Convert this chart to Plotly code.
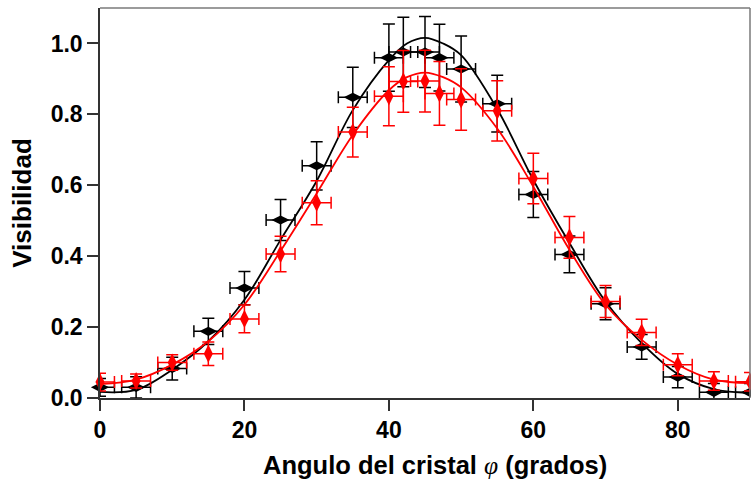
import plotly.graph_objects as go

# ---- data ----
angle = [0, 5, 10, 15, 20, 25, 30, 35, 40, 42, 45, 47, 50, 55, 60, 65, 70, 75, 80, 85, 90]
vis_black = [0.030, 0.030, 0.083, 0.188, 0.310, 0.502, 0.655, 0.848, 0.960, 0.976, 0.976, 0.960,
             0.928, 0.830, 0.574, 0.405, 0.266, 0.144, 0.059, 0.016, 0.016]
err_black = [0.025, 0.030, 0.032, 0.037, 0.047, 0.058, 0.068, 0.085, 0.095, 0.098, 0.100, 0.094,
             0.093, 0.080, 0.065, 0.052, 0.045, 0.035, 0.030, 0.025, 0.025]
vis_red = [0.045, 0.048, 0.100, 0.125, 0.223, 0.406, 0.551, 0.750, 0.851, 0.893, 0.894, 0.859,
           0.842, 0.810, 0.619, 0.453, 0.272, 0.185, 0.094, 0.048, 0.046]
err_red = [0.025, 0.020, 0.022, 0.033, 0.039, 0.050, 0.062, 0.070, 0.083, 0.087, 0.087, 0.090,
           0.087, 0.085, 0.071, 0.059, 0.045, 0.037, 0.031, 0.026, 0.026]
angle_err = [2] * len(angle)

fit_angle = [0, 5, 10, 15, 20, 25, 30, 35, 40, 42.5, 45, 47.5, 50, 55, 60, 65, 70, 75, 80, 85, 90]
fit_black = [0.017, 0.023, 0.080, 0.160, 0.277, 0.446, 0.612, 0.812, 0.953, 1.000, 1.016, 1.000,
             0.967, 0.815, 0.615, 0.437, 0.272, 0.155, 0.068, 0.025, 0.014]
fit_red = [0.039, 0.052, 0.094, 0.160, 0.263, 0.415, 0.577, 0.742, 0.868, 0.905, 0.918, 0.905,
           0.876, 0.760, 0.596, 0.418, 0.263, 0.164, 0.094, 0.052, 0.042]

x_ticks = [0, 20, 40, 60, 80]
y_ticks = [0.0, 0.2, 0.4, 0.6, 0.8, 1.0]

FONT = "Liberation Sans, Arial, sans-serif"
BLACK = "#000000"
RED = "#ff0000"

fig = go.Figure()


def add_series(y, err, fit_y, color, symbol, msize):
    # error bars (clipped to the plot area)
    fig.add_trace(go.Scatter(
        x=angle, y=y, mode="markers",
        marker=dict(size=1, color=color, opacity=0),
        error_y=dict(type="data", array=err, visible=True, color=color, thickness=1.5, width=6),
        error_x=dict(type="data", array=angle_err, visible=True, color=color, thickness=1.5, width=6),
        cliponaxis=True, showlegend=False, hoverinfo="skip"))
    # markers (not clipped)
    fig.add_trace(go.Scatter(
        x=angle, y=y, mode="markers",
        marker=dict(symbol=symbol, size=msize, color=color, line=dict(width=0)),
        cliponaxis=False, showlegend=False))
    # fit curve
    fig.add_trace(go.Scatter(
        x=fit_angle, y=fit_y, mode="lines",
        line=dict(color=color, width=1.8, shape="spline", smoothing=1.0),
        showlegend=False, hoverinfo="skip"))


add_series(vis_black, err_black, fit_black, BLACK, "diamond-wide", 13)
add_series(vis_red, err_red, fit_red, RED, "diamond-tall", 13)

axis_common = dict(
    showgrid=False, zeroline=False, showline=True, linecolor="#333333", linewidth=1.5,
    ticks="outside", ticklen=11, tickwidth=1.5, tickcolor="#333333",
    tickfont=dict(family=FONT, size=23, color="#000000", weight="bold"),
    mirror=False,
)

fig.update_layout(
    width=751, height=479,
    margin=dict(l=100, r=1, t=8, b=81, pad=0),
    paper_bgcolor="white", plot_bgcolor="white",
    xaxis=dict(range=[0, 90], tickvals=x_ticks, ticktext=[str(v) for v in x_ticks],
               **axis_common),
    yaxis=dict(range=[0, 1.1], tickvals=y_ticks, ticktext=[f"{v:.1f}" for v in y_ticks],
               title=dict(text="Visibilidad", font=dict(family=FONT, size=26, color="#000000", weight="bold"),
                          standoff=12),
               **axis_common),
    annotations=[
        dict(text="Angulo del cristal <span style=\"font-family:'Liberation Serif', serif; font-weight:normal\"><i>φ</i></span> (grados)",
             xref="paper", yref="paper", x=0.5154, y=-0.1718, xanchor="center", yanchor="middle",
             showarrow=False, font=dict(family=FONT, size=25.5, color="#000000", weight="bold")),
    ],
    shapes=[
        dict(type="line", xref="paper", yref="paper", x0=0, x1=1, y0=1, y1=1,
             line=dict(color="#7a7a7a", width=1.5)),
        dict(type="line", xref="paper", yref="paper", x0=1, x1=1, y0=0, y1=1,
             line=dict(color="#7a7a7a", width=1.5)),
    ],
)

fig.write_html("out.html")
